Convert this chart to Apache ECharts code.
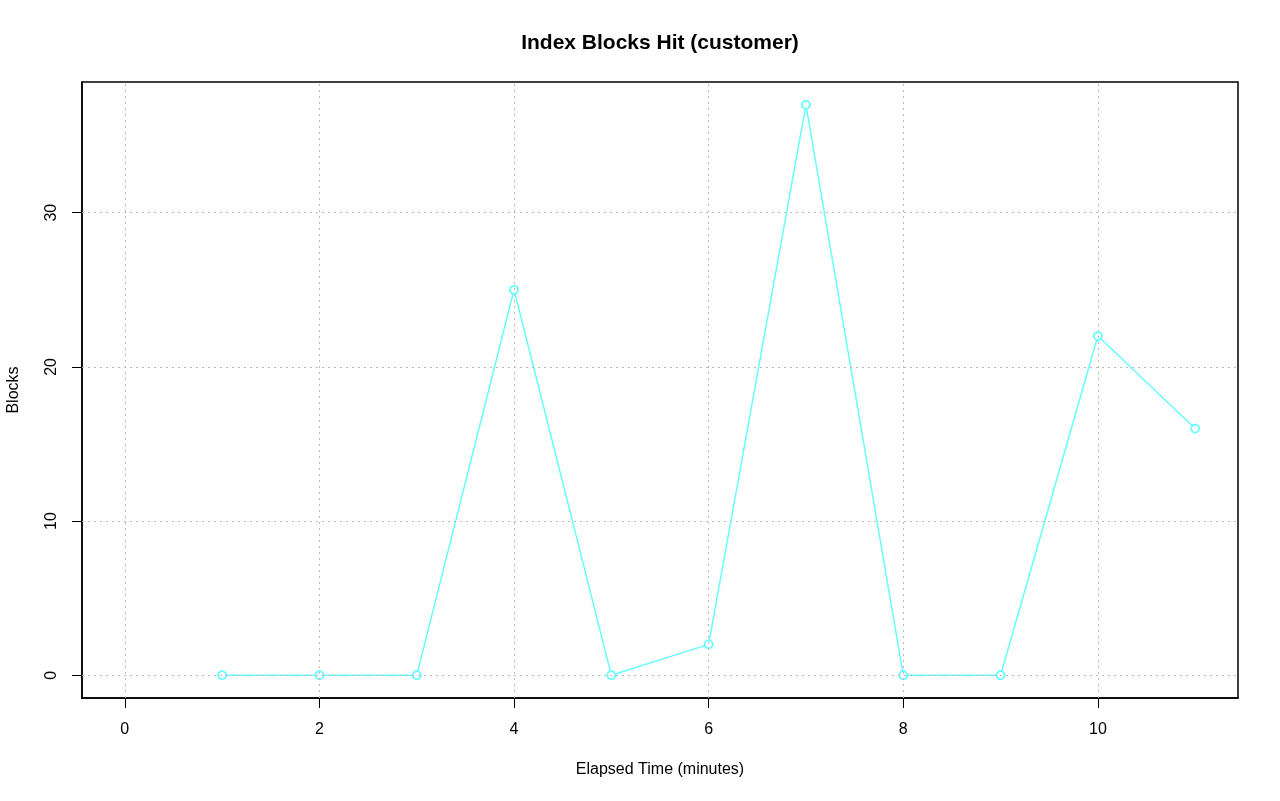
<!DOCTYPE html>
<html><head><meta charset="utf-8">
<script src="https://cdn.jsdelivr.net/npm/echarts@6/dist/echarts.min.js"></script>
<style>html,body{margin:0;padding:0;background:#fff}#c{width:1280px;height:801px}</style>
</head><body><div id="c"></div>
<script>
const minutes = [1, 2, 3, 4, 5, 6, 7, 8, 9, 10, 11];
const blocks = [0, 0, 0, 25, 0, 2, 37, 0, 0, 22, 16];
const xTicks = [0, 2, 4, 6, 8, 10];
const yTicks = [0, 10, 20, 30];
const titleText = 'Index Blocks Hit (customer)';
const xName = 'Elapsed Time (minutes)';
const yName = 'Blocks';

const font = 'Liberation Sans, Arial, sans-serif';
const chart = echarts.init(document.getElementById('c'));
const gridLines = xTicks.map(v => ({xAxis: v})).concat(yTicks.map(v => ({yAxis: v})));
chart.setOption({
  animation: false,
  grid: {left: 82, right: 42, top: 82, bottom: 103, show: true, borderColor: '#000', borderWidth: 1.5, backgroundColor: 'transparent'},
  xAxis: {
    type: 'value', min: -0.44, max: 11.44,
    axisLine: {show: true, onZero: false, lineStyle: {color: '#000', width: 1.5}},
    splitLine: {show: false},
    axisTick: {show: true, customValues: xTicks, length: 10, inside: false, lineStyle: {color: '#000', width: 1}},
    axisLabel: {customValues: xTicks, margin: 24, fontSize: 16, color: '#000', fontFamily: font}
  },
  yAxis: {
    type: 'value', min: -1.48, max: 38.48,
    axisLine: {show: true, onZero: false, lineStyle: {color: '#000', width: 1.5}},
    splitLine: {show: false},
    axisTick: {show: true, customValues: yTicks, length: 10, inside: false, lineStyle: {color: '#000', width: 1}},
    axisLabel: {customValues: yTicks, margin: 22, fontSize: 16, color: '#000', fontFamily: font, rotate: 90}
  },
  graphic: [
    {type: 'text', x: 660, y: 43, style: {text: titleText, font: 'bold 21px ' + font, fill: '#000', textAlign: 'center', textVerticalAlign: 'middle'}},
    {type: 'text', x: 660, y: 770, style: {text: xName, font: '16px ' + font, fill: '#000', textAlign: 'center', textVerticalAlign: 'middle'}},
    {type: 'text', x: 14, y: 390, rotation: Math.PI / 2, style: {text: yName, font: '16px ' + font, fill: '#000', textAlign: 'center', textVerticalAlign: 'middle'}}
  ],
  series: [{
    type: 'line',
    data: minutes.map((m, i) => [m, blocks[i]]),
    symbol: 'circle', symbolSize: 8, showAllSymbol: true,
    lineStyle: {color: '#6ff', width: 1.5},
    itemStyle: {color: '#fff', borderColor: '#6ff', borderWidth: 1.8},
    markLine: {
      silent: true, symbol: 'none', label: {show: false},
      lineStyle: {color: '#bbb', type: [2, 4], width: 1},
      data: gridLines
    },
    z: 3
  }]
});
</script></body></html>
